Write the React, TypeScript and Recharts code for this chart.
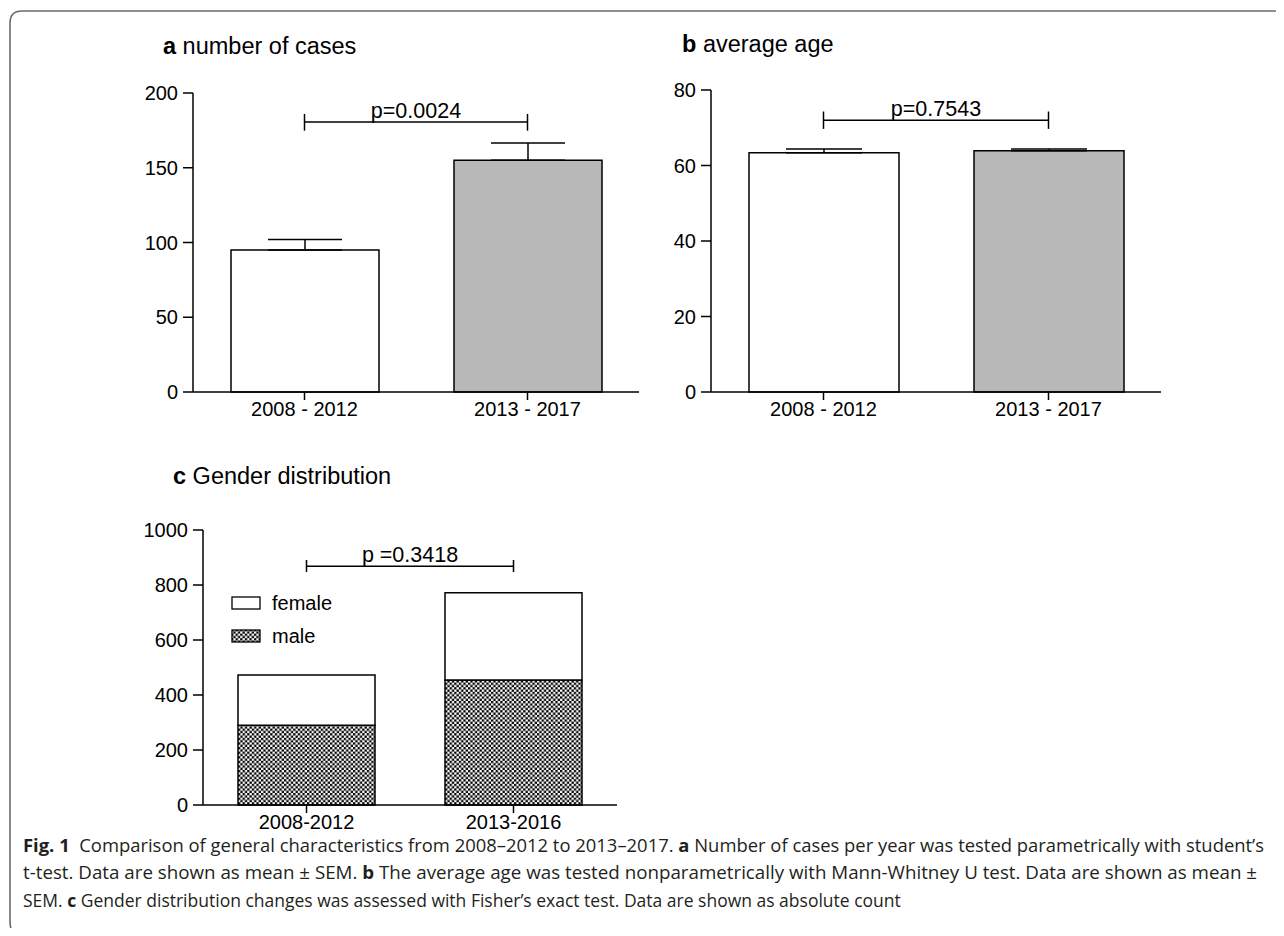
import React from 'react';
import { BarChart, Bar, XAxis, YAxis, ErrorBar, Cell, ReferenceLine, Legend } from 'recharts';

// panels a + b share the periods
const periodsAB = ['2008 - 2012', '2013 - 2017'];
const casesMean = [95, 155];
const casesSem = [7, 11.5];
const ageMean = [63.4, 63.9];
const ageSem = [1.0, 0.5];

// panel c
const periodsC = ['2008-2012', '2013-2016'];
const maleCount = [290, 455];
const femaleCount = [183, 317];

const casesTicks = [0, 50, 100, 150, 200];
const ageTicks = [0, 20, 40, 60, 80];
const genderTicks = [0, 200, 400, 600, 800, 1000];

const FONT = '"Liberation Sans", Arial, Helvetica, sans-serif';
const BAR_FILLS = ['#ffffff', '#b8b8b8'];

const casesData = periodsAB.map((p, i) => ({ period: p, value: casesMean[i], err: [0, casesSem[i]] }));
const ageData = periodsAB.map((p, i) => ({ period: p, value: ageMean[i], err: [0, ageSem[i]] }));
const genderData = periodsC.map((p, i) => ({ period: p, male: maleCount[i], female: femaleCount[i] }));

const tickStyle = { fill: '#000', fontSize: 20, fontFamily: FONT };
const axisLine = { stroke: '#000', strokeWidth: 1.5 };
const pLabel = (text: string) => ({
    value: text,
    position: 'top' as const,
    offset: 4,
    fill: '#000',
    fontSize: 21.5,
    fontFamily: FONT,
});

function brackets(x1: string, x2: string, y: number, lo: number, hi: number, text: string) {
    const line = { stroke: '#000', strokeWidth: 1.5 };
    return [
        <ReferenceLine key="h" segment={[{ x: x1, y }, { x: x2, y }]} {...line} label={pLabel(text)} />,
        <ReferenceLine key="l" segment={[{ x: x1, y: lo }, { x: x1, y: hi }]} {...line} />,
        <ReferenceLine key="r" segment={[{ x: x2, y: lo }, { x: x2, y: hi }]} {...line} />,
    ];
}

function GenderLegend({ payload }: any) {
    // female listed above male, as in the figure
    const items = [...(payload || [])].sort((a: any, b: any) => (a.value === 'female' ? -1 : b.value === 'female' ? 1 : 0));
    return (
        <div style={{ fontFamily: FONT, fontSize: 20, color: '#000' }}>
            {items.map((entry: any) => (
                <div key={entry.value} style={{ display: 'flex', alignItems: 'center', height: 33 }}>
                    <svg width={31} height={15} style={{ marginRight: 10 }}>
                        <rect x={1} y={1} width={28} height={12} fill={entry.color} stroke="#000" strokeWidth={1.3} />
                    </svg>
                    <span>{entry.value}</span>
                </div>
            ))}
        </div>
    );
}

const titleStyle: React.CSSProperties = {
    position: 'absolute',
    fontFamily: FONT,
    fontSize: 23.5,
    lineHeight: 1,
    color: '#000',
    whiteSpace: 'nowrap',
};

export default function App() {
    return (
        <div style={{ position: 'relative', width: 1268, height: 920, background: '#fff' }}>
            {/* frame */}
            <svg width={1284} height={936} style={{ position: 'absolute', left: -8, top: -8 }}>
                <path d="M 1284 11 H 22 Q 10 11 10 23 V 921 Q 10 930 14 934" fill="none" stroke="#6b6b6b" strokeWidth={1.6} />
            </svg>

            <div style={{ ...titleStyle, left: 155, top: 27 }}>
                <b>a</b> number of cases
            </div>
            <div style={{ ...titleStyle, left: 674, top: 25 }}>
                <b>b</b> average age
            </div>
            <div style={{ ...titleStyle, left: 165, top: 457 }}>
                <b>c</b> Gender distribution
            </div>

            {/* panel a */}
            <div style={{ position: 'absolute', left: 0, top: 0 }}>
                <BarChart width={636} height={424} data={casesData} margin={{ top: 85, right: 5, bottom: 0, left: 105 }}>
                    <XAxis dataKey="period" height={40} tick={tickStyle} tickSize={8} axisLine={axisLine} tickLine={axisLine} />
                    <YAxis type="number" domain={[0, 200]} ticks={casesTicks} width={80} tick={tickStyle} tickSize={10} tickMargin={5} axisLine={axisLine} tickLine={axisLine} />
                    <Bar dataKey="value" barSize={148} stroke="#000" strokeWidth={1.5} isAnimationActive={false}>
                        {casesData.map((d, i) => (
                            <Cell key={d.period} fill={BAR_FILLS[i]} />
                        ))}
                        <ErrorBar dataKey="err" width={37} stroke="#000" strokeWidth={1.5} direction="y" />
                    </Bar>
                    {brackets(periodsAB[0], periodsAB[1], 180.6, 174.8, 186, 'p=0.0024')}
                </BarChart>
            </div>

            {/* panel b */}
            <div style={{ position: 'absolute', left: 640, top: 0 }}>
                <BarChart width={518} height={424} data={ageData} margin={{ top: 82, right: 5, bottom: 0, left: 3 }}>
                    <XAxis dataKey="period" height={40} tick={tickStyle} tickSize={8} axisLine={axisLine} tickLine={axisLine} />
                    <YAxis type="number" domain={[0, 80]} ticks={ageTicks} width={60} tick={tickStyle} tickSize={10} tickMargin={5} axisLine={axisLine} tickLine={axisLine} />
                    <Bar dataKey="value" barSize={150} stroke="#000" strokeWidth={1.5} isAnimationActive={false}>
                        {ageData.map((d, i) => (
                            <Cell key={d.period} fill={BAR_FILLS[i]} />
                        ))}
                        <ErrorBar dataKey="err" width={38} stroke="#000" strokeWidth={1.5} direction="y" />
                    </Bar>
                    {brackets(periodsAB[0], periodsAB[1], 72, 69.7, 74.3, 'p=0.7543')}
                </BarChart>
            </div>

            {/* panel c */}
            <div style={{ position: 'absolute', left: 0, top: 440 }}>
                <BarChart width={614} height={397} data={genderData} margin={{ top: 82, right: 5, bottom: 0, left: 115 }}>
                    <defs>
                        <pattern id="checker" width={4.6} height={4.6} patternUnits="userSpaceOnUse">
                            <rect width={4.6} height={4.6} fill="#fff" />
                            <rect width={2.3} height={2.3} fill="#000" />
                            <rect x={2.3} y={2.3} width={2.3} height={2.3} fill="#000" />
                        </pattern>
                    </defs>
                    <XAxis dataKey="period" height={40} tick={tickStyle} tickSize={8} axisLine={axisLine} tickLine={axisLine} />
                    <YAxis type="number" domain={[0, 1000]} ticks={genderTicks} width={80} tick={tickStyle} tickSize={10} tickMargin={5} axisLine={axisLine} tickLine={axisLine} />
                    <Legend
                        layout="vertical"
                        align="center"
                        verticalAlign="middle"
                        content={<GenderLegend />}
                        wrapperStyle={{ left: 223, top: 139, width: 160 }}
                    />
                    <Bar dataKey="male" name="male" stackId="g" barSize={137} fill="url(#checker)" stroke="#000" strokeWidth={1.5} isAnimationActive={false} />
                    <Bar dataKey="female" name="female" stackId="g" barSize={137} fill="#ffffff" stroke="#000" strokeWidth={1.5} isAnimationActive={false} />
                    {brackets(periodsC[0], periodsC[1], 868, 847, 891, 'p =0.3418')}
                </BarChart>
            </div>

            {/* caption */}
            <svg width={1284} height={120} style={{ position: 'absolute', left: -8, top: 815 }}>
                <g fontFamily='"Open Sans", "Noto Sans", sans-serif' fontSize={17.5} fill="#231f20">
                    <text x={23} y={29} textLength={1241} lengthAdjust="spacingAndGlyphs">
                        <tspan fontWeight="bold">Fig. 1</tspan>
                        <tspan>{'\u00a0 Comparison of general characteristics from 2008–2012 to 2013–2017. '}</tspan>
                        <tspan fontWeight="bold">a</tspan>
                        <tspan> Number of cases per year was tested parametrically with student’s</tspan>
                    </text>
                    <text x={23} y={56} textLength={1234} lengthAdjust="spacingAndGlyphs">
                        <tspan>{'t-test. Data are shown as mean ± SEM. '}</tspan>
                        <tspan fontWeight="bold">b</tspan>
                        <tspan> The average age was tested nonparametrically with Mann-Whitney U test. Data are shown as mean ±</tspan>
                    </text>
                    <text x={23} y={84}>
                        <tspan>{'SEM. '}</tspan>
                        <tspan fontWeight="bold">c</tspan>
                        <tspan> Gender distribution changes was assessed with Fisher’s exact test. Data are shown as absolute count</tspan>
                    </text>
                </g>
            </svg>
        </div>
    );
}
